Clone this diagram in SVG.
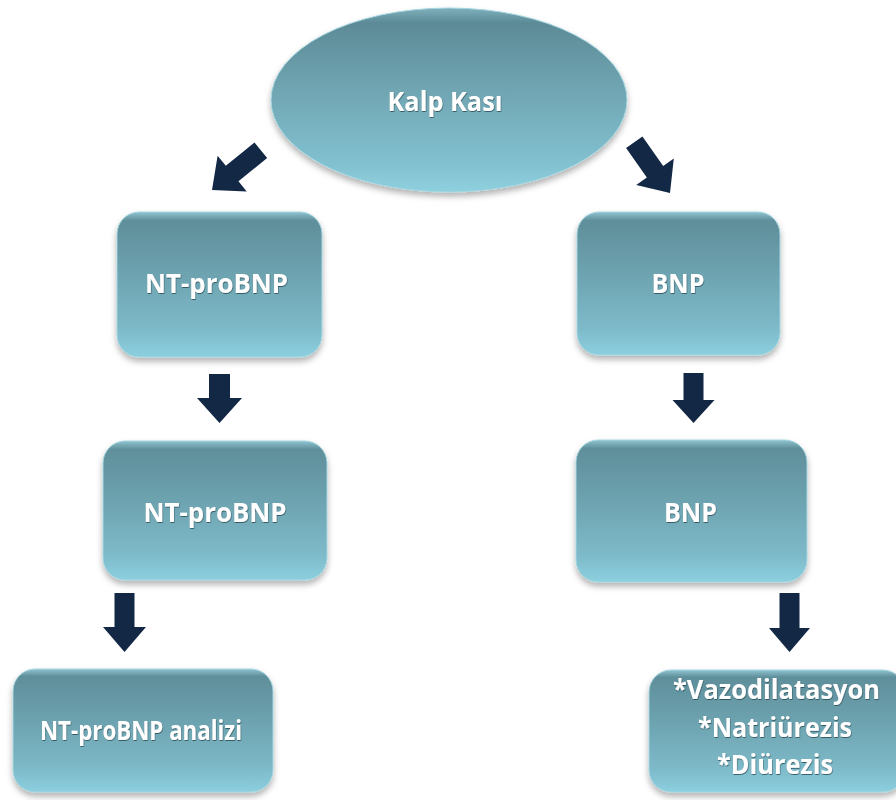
<svg xmlns="http://www.w3.org/2000/svg" width="896" height="800" viewBox="0 0 896 800">
<defs>
<linearGradient id="g" x1="0" y1="0" x2="0" y2="1">
<stop offset="0" stop-color="#8fc4d0"/>
<stop offset="0.06" stop-color="#5f8f9b"/>
<stop offset="0.35" stop-color="#6a9eab"/>
<stop offset="0.8" stop-color="#7db9c8"/>
<stop offset="1" stop-color="#8ccfdf"/>
</linearGradient>
<linearGradient id="ge" x1="0" y1="0" x2="0" y2="1">
<stop offset="0" stop-color="#7fb0bb"/>
<stop offset="0.08" stop-color="#5c8b97"/>
<stop offset="0.4" stop-color="#6ea2af"/>
<stop offset="0.85" stop-color="#82c1d0"/>
<stop offset="1" stop-color="#8fd0df"/>
</linearGradient>
<filter id="sh" x="-10%" y="-10%" width="120%" height="130%">
<feDropShadow dx="0" dy="4" stdDeviation="3" flood-color="#000" flood-opacity="0.3"/>
</filter>
<filter id="ts" x="-5%" y="-20%" width="110%" height="140%">
<feDropShadow dx="0.5" dy="1" stdDeviation="0.6" flood-color="#1c3b44" flood-opacity="0.7"/>
</filter>
</defs>
<style>
.box{fill:url(#g);stroke:#a6d6e0;stroke-width:1;filter:url(#sh)}
.ell{fill:url(#ge);stroke:#a6d6e0;stroke-width:1;filter:url(#sh)}
.t{font-family:"Open Sans","Noto Sans",sans-serif;font-weight:bold;font-size:26px;fill:#ffffff;text-anchor:middle;filter:url(#ts)}
.arr{fill:#132844}
</style>
<rect width="896" height="800" fill="#ffffff"/>

<g id="connectors">
<path class="arr" transform="translate(212,190) rotate(50.8)" d="M-10,-63 L10,-63 L10,-26 L23,-26 L0,0 L-23,-26 L-10,-26 Z"/>
<path class="arr" transform="translate(670,193) rotate(-35.2)" d="M-10,-62 L10,-62 L10,-26 L23,-26 L0,0 L-23,-26 L-10,-26 Z"/>
<path class="arr" transform="translate(219.5,423)" d="M-10.5,-49 L10.5,-49 L10.5,-25 L22.5,-25 L0,0 L-22.5,-25 L-10.5,-25 Z"/>
<path class="arr" transform="translate(693.5,423)" d="M-10,-50 L10,-50 L10,-23 L21,-23 L0,0 L-21,-23 L-10,-23 Z"/>
<path class="arr" transform="translate(124.5,652)" d="M-10,-59 L10,-59 L10,-25 L21.5,-25 L0,0 L-21.5,-25 L-10,-25 Z"/>
<path class="arr" transform="translate(789.5,652)" d="M-10,-59 L10,-59 L10,-24 L20.5,-24 L0,0 L-20.5,-24 L-10,-24 Z"/>
</g>

<g id="kalp">
<ellipse class="ell" cx="449" cy="100" rx="178" ry="92"/>
<text class="t" x="445" y="111" textLength="115" lengthAdjust="spacingAndGlyphs">Kalp Kası</text>
</g>

<g id="ntprobnp1">
<rect class="box" x="117" y="212" width="205" height="145" rx="22"/>
<text class="t" x="216.5" y="293" textLength="143" lengthAdjust="spacingAndGlyphs">NT-proBNP</text>
</g>

<g id="bnp1">
<rect class="box" x="577" y="212" width="203" height="143" rx="22"/>
<text class="t" x="678" y="293" textLength="53" lengthAdjust="spacingAndGlyphs">BNP</text>
</g>

<g id="ntprobnp2">
<rect class="box" x="103" y="441" width="224" height="139" rx="22"/>
<text class="t" x="215" y="522" textLength="143" lengthAdjust="spacingAndGlyphs">NT-proBNP</text>
</g>

<g id="bnp2">
<rect class="box" x="576" y="440" width="231" height="142" rx="22"/>
<text class="t" x="690.5" y="522" textLength="53" lengthAdjust="spacingAndGlyphs">BNP</text>
</g>

<g id="analiz">
<rect class="box" x="13" y="669" width="260" height="123" rx="22"/>
<text class="t" x="141" y="740" textLength="202" lengthAdjust="spacingAndGlyphs">NT-proBNP analizi</text>
</g>

<g id="etkiler">
<rect class="box" x="649" y="670" width="256" height="122" rx="22"/>
<text class="t" x="776.5" y="699" textLength="207" lengthAdjust="spacingAndGlyphs">*Vazodilatasyon</text>
<text class="t" x="775" y="737" textLength="154" lengthAdjust="spacingAndGlyphs">*Natriürezis</text>
<text class="t" x="775" y="774" textLength="116" lengthAdjust="spacingAndGlyphs">*Diürezis</text>
</g>
</svg>
